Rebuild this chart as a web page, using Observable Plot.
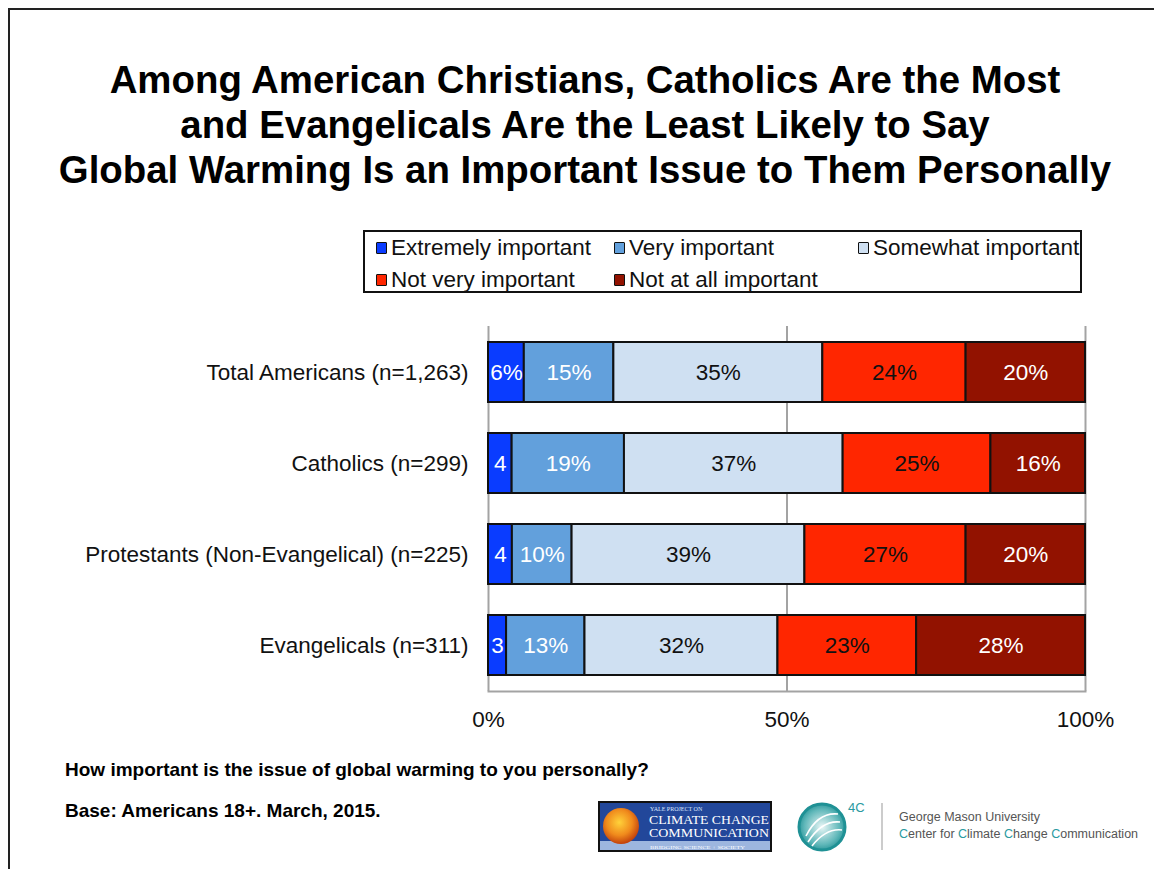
<!DOCTYPE html>
<html><head><meta charset="utf-8">
<script src="https://cdn.jsdelivr.net/npm/d3@7"></script>
<script src="https://cdn.jsdelivr.net/npm/@observablehq/plot@0.6"></script>
<style>
body{margin:0;background:#fff;font-family:"Liberation Sans",Arial,Helvetica,sans-serif;}
#page{position:relative;width:1154px;height:869px;overflow:hidden;background:#fff;}
#frame{position:absolute;left:8px;top:8px;width:1300px;height:1000px;border-top:2px solid #222;border-left:2px solid #222;}
#title{position:absolute;left:0;width:1170px;top:57px;text-align:center;font-weight:bold;font-size:38.4px;line-height:45px;color:#000;}
#legend{position:absolute;left:363px;top:230px;width:704px;height:59px;border:2px solid #111;padding-left:11px;box-sizing:content-box;display:grid;grid-template-columns:238px 244px 1fr;grid-auto-rows:32px;font-size:22.5px;color:#111;}
#legend .item{display:flex;align-items:center;white-space:nowrap;}
#legend .sw{width:9px;height:10px;border:1.5px solid #111;border-radius:1px;margin-right:4px;flex:none;}
#chart{position:absolute;left:0;top:300px;}
.foot{position:absolute;left:65px;font-weight:bold;font-size:19px;color:#000;}
#logos{position:absolute;left:590px;top:795px;}
</style></head>
<body>
<div id="page">
  <div id="frame"></div>
  <div id="title"></div>
  <div id="legend"></div>
  <div id="chart"></div>
  <div class="foot" id="q" style="top:759px"></div>
  <div class="foot" id="base" style="top:800px"></div>
  <svg id="logos" width="564" height="70" viewBox="590 795 564 70">
    <defs>
      <radialGradient id="globe" cx="0.45" cy="0.4" r="0.6">
        <stop offset="0" stop-color="#ffd23a"/>
        <stop offset="0.6" stop-color="#f08a1c"/>
        <stop offset="1" stop-color="#c2410c"/>
      </radialGradient>
      <radialGradient id="teal" cx="0.5" cy="0.5" r="0.55">
        <stop offset="0" stop-color="#e9f6f6"/>
        <stop offset="0.7" stop-color="#5fb7b9"/>
        <stop offset="1" stop-color="#1f8f93"/>
      </radialGradient>
    </defs>
    <rect x="599" y="802" width="172" height="49" fill="#22479a" stroke="#111" stroke-width="2"/>
    <rect x="600" y="841" width="170" height="9" fill="#9db6df"/>
    <circle cx="621" cy="826" r="18" fill="url(#globe)"/>
    <text x="650" y="811" font-family="Liberation Serif, serif" font-size="6" fill="#dfe8ff">YALE PROJECT ON</text>
    <text x="649" y="824" font-family="Liberation Serif, serif" font-size="11.5" fill="#fff" textLength="120" lengthAdjust="spacingAndGlyphs">CLIMATE CHANGE</text>
    <text x="649" y="836.5" font-family="Liberation Serif, serif" font-size="11.5" fill="#fff" textLength="120" lengthAdjust="spacingAndGlyphs">COMMUNICATION</text>
    <text x="650" y="848.5" font-family="Liberation Serif, serif" font-size="5" fill="#fff" textLength="95" lengthAdjust="spacingAndGlyphs">BRIDGING SCIENCE + SOCIETY</text>
    <circle cx="822" cy="827" r="23" fill="url(#teal)" stroke="#1f9195" stroke-width="3"/>
    <path d="M806 836 Q818 812 838 814 M808 842 Q822 820 840 822 M812 846 Q826 828 842 830" fill="none" stroke="#fff" stroke-width="1.6"/>
    <text x="848" y="812" font-size="13" fill="#2a9aa0">4C</text>
    <line x1="882" y1="803" x2="882" y2="850" stroke="#999" stroke-width="1"/>
    <text x="899" y="821" font-size="12.5" fill="#555">George Mason University</text>
    <text x="899" y="838" font-size="12.5" fill="#555"><tspan fill="#2a9aa0">C</tspan>enter for <tspan fill="#2a9aa0">C</tspan>limate <tspan fill="#2a9aa0">C</tspan>hange <tspan fill="#2a9aa0">C</tspan>ommunication</text>
  </svg>
</div>
<script>
// ---- data ----
const titleLines = [
  "Among American Christians, Catholics Are the Most",
  "and Evangelicals Are the Least Likely to Say",
  "Global Warming Is an Important Issue to Them Personally"
];
const groups = [
  "Total Americans (n=1,263)",
  "Catholics (n=299)",
  "Protestants (Non-Evangelical) (n=225)",
  "Evangelicals (n=311)"
];
const categories = ["Extremely important", "Very important", "Somewhat important", "Not very important", "Not at all important"];
const colors = ["#0a3cff", "#62a0dc", "#cfe0f2", "#ff2600", "#921200"];
const labelColors = ["#fff", "#fff", "#111", "#111", "#fff"];
const extremely = [6, 4, 4, 3];
const very = [15, 19, 10, 13];
const somewhat = [35, 37, 39, 32];
const notVery = [24, 25, 27, 23];
const notAtAll = [20, 16, 20, 28];
const extremelyLabels = ["6%", "4", "4", "3"];
const xTicks = [0, 0.5, 1];
const question = "How important is the issue of global warming to you personally?";
const baseNote = "Base: Americans 18+. March, 2015.";

// ---- build ----
document.getElementById("title").innerHTML = titleLines.join("<br>");
document.getElementById("q").textContent = question;
document.getElementById("base").textContent = baseNote;

const legend = document.getElementById("legend");
categories.forEach((c, i) => {
  const it = document.createElement("div");
  it.className = "item";
  const sw = document.createElement("span");
  sw.className = "sw";
  sw.style.background = colors[i];
  it.appendChild(sw);
  it.appendChild(document.createTextNode(c));
  legend.appendChild(it);
});

const series = [extremely, very, somewhat, notVery, notAtAll];
const data = [];
groups.forEach((g, gi) => {
  categories.forEach((c, ci) => {
    const v = series[ci][gi];
    data.push({
      group: g,
      category: c,
      value: v,
      label: ci === 0 ? extremelyLabels[gi] : v + "%",
      tcolor: labelColors[ci]
    });
  });
});

const stackOpts = {offset: "normalize", x: "value", y: "group", z: "category"};

const chart = Plot.plot({
  width: 1154,
  height: 440,
  marginTop: 26,
  marginBottom: 49,
  marginLeft: 488,
  marginRight: 69,
  style: {fontSize: "22.5px", fontFamily: "Liberation Sans, Arial, Helvetica, sans-serif", color: "#111", background: "transparent"},
  x: {domain: [0, 1]},
  y: {domain: groups, paddingInner: 0.34, paddingOuter: 0.17},
  color: {domain: categories, range: colors},
  marks: [
    Plot.ruleX(xTicks, {stroke: "#a3a3a3", strokeWidth: 2}),
    Plot.frame({anchor: "bottom", stroke: "#a3a3a3", strokeWidth: 2}),
    Plot.barX(data, Plot.stackX({...stackOpts, fill: "category", stroke: "#111", strokeWidth: 2})),
    Plot.text(data, Plot.stackX({...stackOpts, text: d => d.tcolor === "#fff" ? d.label : null, fill: "#fff"})),
    Plot.text(data, Plot.stackX({...stackOpts, text: d => d.tcolor === "#111" ? d.label : null, fill: "#111"})),
    Plot.axisY({tickSize: 0, tickPadding: 20, label: null, fill: "#111"}),
    Plot.axisX({ticks: xTicks, tickFormat: d3.format(".0%"), tickSize: 0, tickPadding: 20, label: null, fill: "#111"})
  ]
});
document.getElementById("chart").appendChild(chart);
</script>
</body></html>
